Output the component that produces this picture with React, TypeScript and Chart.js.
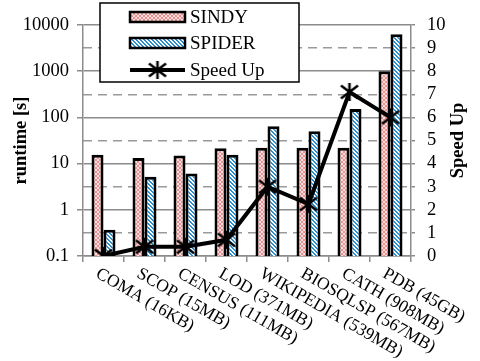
import React, { useEffect, useRef } from "react";
import { Chart, registerables } from "chart.js";
Chart.register(...registerables);

const categories = [
  "COMA (16KB)",
  "SCOP (15MB)",
  "CENSUS (111MB)",
  "LOD (371MB)",
  "WIKIPEDIA (539MB)",
  "BIOSQLSP (567MB)",
  "CATH (908MB)",
  "PDB (45GB)",
];
const sindyRuntime = [15.5, 13.3, 15, 21.5, 22, 22, 22, 1000];
const spiderRuntime = [0.37, 5.2, 6.1, 15.5, 64, 50, 152, 6300];
const speedUp = [0, 0.4, 0.4, 0.7, 3.0, 2.25, 7.1, 6.0];
const runtimeTicks = [0.1, 1, 10, 100, 1000, 10000];
const runtimeTickLabels = ["0.1", "1", "10", "100", "1000", "10000"];
const seriesNames = ["SINDY", "SPIDER", "Speed Up"];
const leftTitle = "runtime [s]";
const rightTitle = "Speed Up";

const SERIF = "'Liberation Serif', 'Times New Roman', serif";

function makePink(ctx: CanvasRenderingContext2D) {
  const c = document.createElement("canvas");
  c.width = 4;
  c.height = 4;
  const g = c.getContext("2d")!;
  g.fillStyle = "#fadcdc";
  g.fillRect(0, 0, 4, 4);
  g.fillStyle = "#e69292";
  for (let i = 0; i < 4; i++) {
    g.fillRect(i, i, 1, 1);
    g.fillRect(3 - i, i, 1, 1);
  }
  return ctx.createPattern(c, "repeat")!;
}

function makeBlue(ctx: CanvasRenderingContext2D) {
  const c = document.createElement("canvas");
  c.width = 4;
  c.height = 4;
  const g = c.getContext("2d")!;
  g.fillStyle = "#ffffff";
  g.fillRect(0, 0, 4, 4);
  g.fillStyle = "#2a8fd0";
  for (let i = 0; i < 4; i++) {
    g.fillRect(i, i, 1, 1);
    g.fillRect((i + 1) % 4, i, 1, 1);
  }
  return ctx.createPattern(c, "repeat")!;
}

function makeStar() {
  const c = document.createElement("canvas");
  c.width = 22;
  c.height = 22;
  const g = c.getContext("2d")!;
  g.strokeStyle = "#000";
  g.lineWidth = 2.5;
  g.lineCap = "butt";
  g.beginPath();
  g.moveTo(11 - 8.5, 11 - 6.5);
  g.lineTo(11 + 8.5, 11 + 6.5);
  g.moveTo(11 + 8.5, 11 - 6.5);
  g.lineTo(11 - 8.5, 11 + 6.5);
  g.moveTo(11, 11 - 9);
  g.lineTo(11, 11 + 9);
  g.stroke();
  return c;
}

export default function App() {
  const ref = useRef<HTMLCanvasElement>(null);
  useEffect(() => {
    const canvas = ref.current!;
    const ctx = canvas.getContext("2d")!;
    const pink = makePink(ctx);
    const blue = makeBlue(ctx);
    const star = makeStar();

    const overlay = {
      id: "overlay",
      afterDraw(chart: any) {
        const c = chart.ctx as CanvasRenderingContext2D;
        const xs = chart.scales.x;
        const area = chart.chartArea;
        c.save();
        // x labels
        c.fillStyle = "#000";
        c.font = `17.5px ${SERIF}`;
        c.textAlign = "left";
        c.textBaseline = "top";
        categories.forEach((lab, i) => {
          const x = xs.getPixelForValue(i);
          c.save();
          c.translate(x - 2, area.bottom + 9);
          c.rotate((30 * Math.PI) / 180);
          c.fillText(lab, 0, 0);
          c.restore();
        });
        // axis titles
        c.font = `bold 18.5px ${SERIF}`;
        c.textAlign = "center";
        c.textBaseline = "middle";
        const cy = (area.top + area.bottom) / 2;
        c.save();
        c.translate(21, cy);
        c.rotate(-Math.PI / 2);
        c.fillText(leftTitle, 0, 0);
        c.restore();
        c.save();
        c.translate(458, cy);
        c.rotate(-Math.PI / 2);
        c.fillText(rightTitle, 0, 0);
        c.restore();
        // legend
        c.fillStyle = "#fff";
        c.fillRect(100, 3, 199, 79);
        c.strokeStyle = "#000";
        c.lineWidth = 1.5;
        c.strokeRect(100, 3, 199, 79);
        const rows = [17, 43, 70];
        c.fillStyle = pink;
        c.fillRect(130, 12, 55, 10);
        c.lineWidth = 2.5;
        c.strokeRect(130, 12, 55, 10);
        c.fillStyle = blue;
        c.fillRect(130, 38, 55, 10);
        c.strokeRect(130, 38, 55, 10);
        c.lineWidth = 4;
        c.beginPath();
        c.moveTo(130, rows[2]);
        c.lineTo(185, rows[2]);
        c.stroke();
        c.drawImage(star, 157.5 - 11, rows[2] - 11);
        c.fillStyle = "#000";
        c.font = `19px ${SERIF}`;
        c.textAlign = "left";
        c.textBaseline = "middle";
        seriesNames.forEach((n, i) => c.fillText(n, 190, rows[i] + 1));
        c.restore();
      },
    };

    const chart = new Chart(canvas, {
      type: "bar",
      data: {
        labels: categories,
        datasets: [
          {
            type: "line",
            label: seriesNames[2],
            data: speedUp,
            yAxisID: "y1",
            borderColor: "#000",
            borderWidth: 4,
            pointStyle: star as any,
            pointRadius: 9,
            order: 0,
          } as any,
          {
            label: seriesNames[0],
            data: sindyRuntime,
            yAxisID: "y",
            backgroundColor: pink,
            borderColor: "#000",
            borderWidth: 3,
            categoryPercentage: 0.585,
            barPercentage: 1,
            order: 1,
          },
          {
            label: seriesNames[1],
            data: spiderRuntime,
            yAxisID: "y",
            backgroundColor: blue,
            borderColor: "#000",
            borderWidth: 3,
            categoryPercentage: 0.585,
            barPercentage: 1,
            order: 1,
          },
        ],
      },
      options: {
        animation: false,
        responsive: false,
        layout: { padding: { top: 25, left: 0, right: 0, bottom: 0 } },
        plugins: { legend: { display: false }, tooltip: { enabled: false } },
        scales: {
          x: {
            ticks: { display: false },
            grid: {
              offset: true,
              drawOnChartArea: false,
              tickLength: 6,
              color: "#8c8c8c",
              lineWidth: 1.5,
            },
            border: { color: "#8c8c8c", width: 1.5 },
            afterFit: (s: any) => {
              s.height = 105;
            },
          },
          y: {
            type: "logarithmic",
            position: "left",
            min: 0.1,
            max: 10000,
            afterBuildTicks: (s: any) => {
              s.ticks = runtimeTicks.map((v) => ({ value: v }));
            },
            ticks: {
              font: { family: SERIF, size: 18.5 },
              color: "#000",
              padding: 8,
              autoSkip: false,
              callback: (v: any) => {
                const i = runtimeTicks.findIndex((t) => Math.abs(t - v) < 1e-9 * Math.max(1, t));
                return i >= 0 ? runtimeTickLabels[i] : "";
              },
            },
            grid: { color: "#8c8c8c", lineWidth: 1.5, tickLength: 6 },
            border: { color: "#8c8c8c", width: 1.5 },
            afterFit: (s: any) => {
              s.width = 83;
            },
          },
          y1: {
            type: "linear",
            position: "right",
            min: 0,
            max: 10,
            ticks: {
              stepSize: 1,
              autoSkip: false,
              font: { family: SERIF, size: 18.5 },
              color: "#000",
              padding: 12,
            },
            grid: {
              color: (c: any) =>
                c.tick && Math.round(c.tick.value) % 2 === 1 ? "#9a9a9a" : "rgba(0,0,0,0)",
              lineWidth: 1.5,
              tickLength: 4,
              tickColor: "#8c8c8c",
              tickBorderDash: [],
            } as any,
            border: { color: "#8c8c8c", width: 1.5, dash: [9, 6] } as any,
            afterFit: (s: any) => {
              s.width = 69;
            },
          },
        },
      },
      plugins: [overlay],
    } as any);
    return () => chart.destroy();
  }, []);
  return (
    <div style={{ position: "fixed", left: 0, top: 0, width: 480, height: 361, background: "#fff" }}>
      <canvas ref={ref} width={480} height={361} style={{ width: 480, height: 361 }} />
    </div>
  );
}
